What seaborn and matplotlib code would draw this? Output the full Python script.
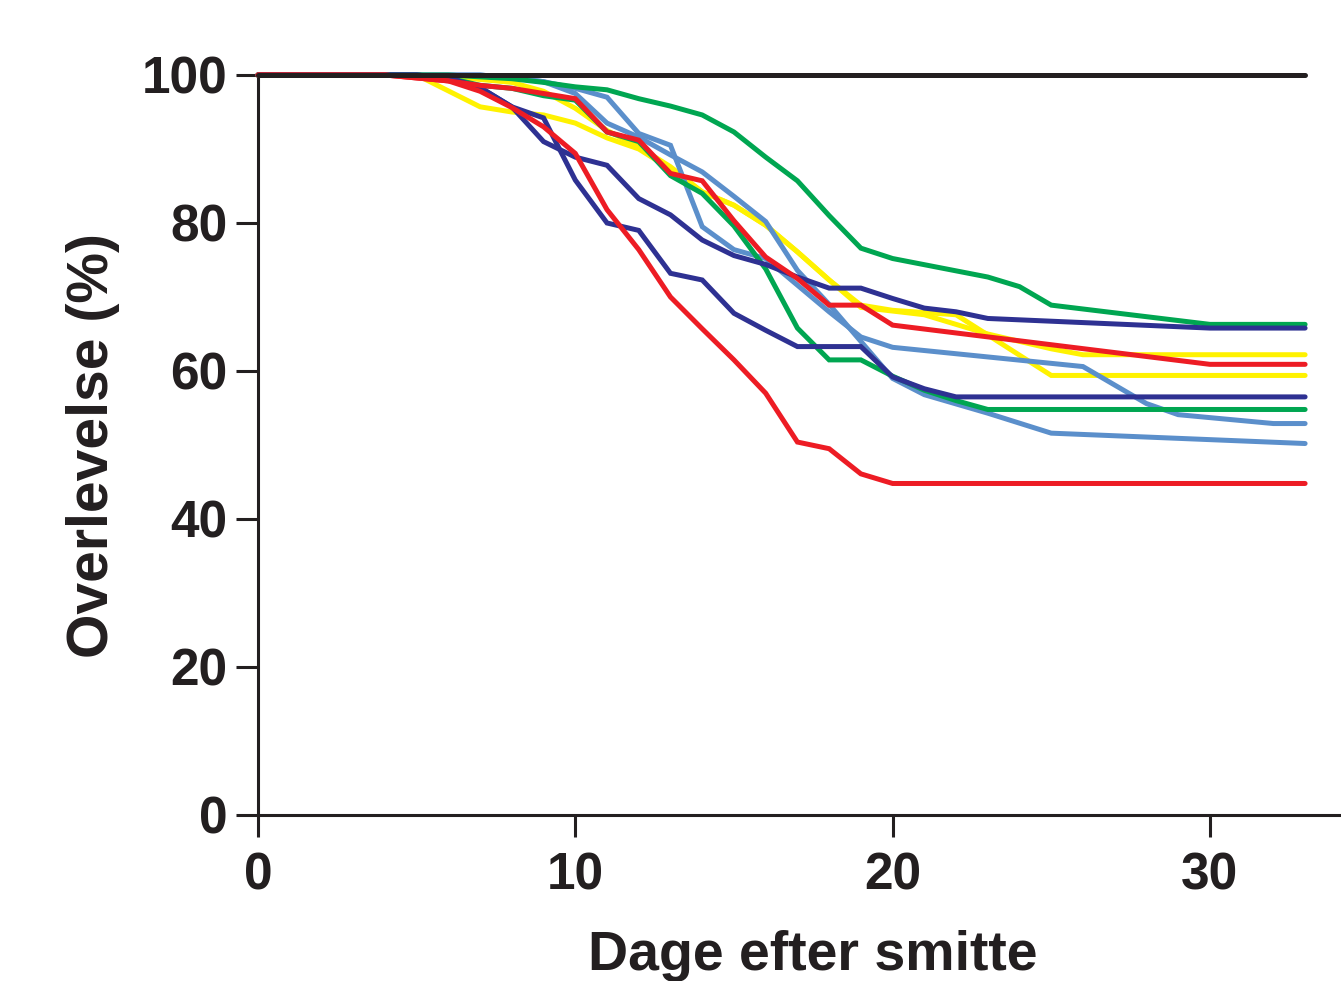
import matplotlib
matplotlib.use("Agg")
import matplotlib.pyplot as plt
import matplotlib.colors as mcolors
import seaborn as sns
import pandas as pd

# ---- data ----
control_days = [0, 33]
control_vals = [100, 100]

darkblue_a_days = [0, 5, 6, 7, 8, 9, 10, 11, 12, 13, 14, 15, 16, 17, 18, 19, 20, 21, 22, 33]
darkblue_a_vals = [100, 100, 99.6, 98.3, 95.7, 94.2, 85.8, 80.0, 79.0, 73.2, 72.3, 67.8, 65.5, 63.3, 63.3, 63.3, 59.2, 57.6, 56.5, 56.5]

darkblue_b_days = [0, 5, 6, 7, 8, 9, 10, 11, 12, 13, 14, 15, 16, 17, 18, 19, 20, 21, 22, 23, 30, 33]
darkblue_b_vals = [100, 100, 99.6, 98.3, 95.7, 91.0, 88.9, 87.8, 83.3, 81.1, 77.7, 75.6, 74.4, 72.7, 71.2, 71.2, 69.8, 68.5, 68.0, 67.1, 65.8, 65.8]

lightblue_a_days = [0, 7, 8, 9, 10, 11, 12, 13, 14, 15, 16, 17, 18, 19, 20, 26, 28, 29, 32, 33]
lightblue_a_vals = [100, 100, 99.6, 99.1, 98.2, 97.0, 92.1, 90.5, 79.5, 76.4, 75.2, 71.6, 68.0, 64.6, 63.2, 60.6, 55.6, 54.1, 52.9, 52.9]

lightblue_b_days = [0, 7, 8, 9, 10, 11, 12, 13, 14, 15, 16, 17, 18, 19, 20, 21, 23, 25, 33]
lightblue_b_vals = [100, 100, 99.6, 99.1, 97.5, 93.5, 91.6, 89.2, 86.9, 83.6, 80.2, 73.6, 69.0, 64.0, 59.0, 56.8, 54.3, 51.6, 50.2]

green_a_days = [0, 6, 8, 9, 10, 11, 12, 13, 14, 15, 16, 17, 18, 19, 20, 23, 24, 25, 30, 33]
green_a_vals = [100, 100, 99.5, 99.0, 98.4, 98.0, 96.8, 95.8, 94.6, 92.3, 88.9, 85.7, 81.0, 76.6, 75.2, 72.7, 71.4, 68.9, 66.3, 66.3]

green_b_days = [0, 5, 6, 7, 8, 9, 10, 11, 12, 13, 14, 15, 16, 17, 18, 19, 20, 21, 22, 23, 33]
green_b_vals = [100, 100, 99.6, 98.6, 98.2, 97.2, 96.6, 92.3, 91.0, 86.4, 84.0, 79.6, 73.8, 65.8, 61.5, 61.5, 59.3, 57.4, 56.0, 54.8, 54.8]

yellow_a_days = [0, 5, 6, 8, 9, 10, 11, 12, 13, 14, 15, 16, 17, 18, 19, 21, 23, 25, 26, 33]
yellow_a_vals = [100, 100, 99.8, 99.0, 97.8, 95.5, 92.5, 90.3, 87.6, 84.2, 82.4, 79.7, 76.1, 72.3, 68.6, 67.6, 65.0, 63.0, 62.2, 62.2]

yellow_b_days = [0, 5, 7, 8, 9, 10, 11, 12, 13, 14, 15, 16, 17, 18, 19, 20, 22, 25, 33]
yellow_b_vals = [100, 100, 95.7, 95.0, 94.6, 93.5, 91.5, 90.0, 87.3, 84.2, 82.4, 79.7, 76.1, 72.3, 68.9, 68.2, 67.6, 59.4, 59.4]

red_a_days = [0, 4, 5, 6, 7, 8, 9, 10, 11, 12, 13, 14, 15, 16, 17, 18, 19, 20, 33]
red_a_vals = [100, 100, 99.6, 99.2, 97.8, 95.6, 93.0, 89.4, 81.8, 76.4, 70.0, 65.7, 61.5, 57.0, 50.4, 49.5, 46.1, 44.8, 44.8]

red_b_days = [0, 4, 5, 6, 7, 8, 9, 10, 11, 12, 13, 14, 15, 16, 17, 18, 19, 20, 30, 33]
red_b_vals = [100, 100, 99.6, 99.2, 98.6, 98.2, 97.5, 96.8, 92.3, 91.2, 86.7, 85.7, 80.3, 75.4, 72.5, 68.9, 68.9, 66.2, 60.9, 60.9]

x_ticks = [0, 10, 20, 30]
y_ticks = [0, 20, 40, 60, 80, 100]
x_label = "Dage efter smitte"
y_label = "Overlevelse (%)"

DARKBLUE = "#2E3192"
LIGHTBLUE = "#5B8FCB"
GREEN = "#00A651"
YELLOW = "#FFF200"
RED = "#ED1C24"
BLACK = "#231F20"

series = [
    ("yellow_a", yellow_a_days, yellow_a_vals, YELLOW),
    ("yellow_b", yellow_b_days, yellow_b_vals, YELLOW),
    ("lightblue_a", lightblue_a_days, lightblue_a_vals, LIGHTBLUE),
    ("lightblue_b", lightblue_b_days, lightblue_b_vals, LIGHTBLUE),
    ("green_a", green_a_days, green_a_vals, GREEN),
    ("green_b", green_b_days, green_b_vals, GREEN),
    ("darkblue_a", darkblue_a_days, darkblue_a_vals, DARKBLUE),
    ("darkblue_b", darkblue_b_days, darkblue_b_vals, DARKBLUE),
    ("red_a", red_a_days, red_a_vals, RED),
    ("red_b", red_b_days, red_b_vals, RED),
    ("control", control_days, control_vals, BLACK),
]

rows = []
for name, d, v, _ in series:
    for xx, yy in zip(d, v):
        rows.append({"day": xx, "val": yy, "series": name})
df = pd.DataFrame(rows)
palette = {name: c for name, _, _, c in series}

sns.set_theme(style="white")
plt.rcParams["font.family"] = ["Liberation Sans", "DejaVu Sans"]
plt.rcParams["font.weight"] = "bold"

fig = plt.figure(figsize=(13.41, 9.81), dpi=100)
ax = fig.add_axes([258 / 1341, 1 - 815 / 981, (1340 - 258) / 1341, (815 - 75) / 981])

sns.lineplot(data=df, x="day", y="val", hue="series", hue_order=[s[0] for s in series],
             palette=palette, estimator=None, sort=False, legend=False, ax=ax,
             linewidth=3.6, solid_capstyle="round", solid_joinstyle="miter", clip_on=False)

# keep the control (black) line on top of the others
black_rgb = mcolors.to_rgb(BLACK)
for ln in ax.lines:
    if mcolors.to_rgb(ln.get_color()) == black_rgb:
        ln.set_zorder(5)
    else:
        ln.set_zorder(3)

ax.set_xlim(0, 34.1)
ax.set_ylim(0, 100)
ax.set_xticks(x_ticks)
ax.set_yticks(y_ticks)
for side in ["top", "right"]:
    ax.spines[side].set_visible(False)
for side in ["left", "bottom"]:
    ax.spines[side].set_linewidth(2.2)
    ax.spines[side].set_color(BLACK)
ax.tick_params(axis="both", which="major", direction="out", length=16, width=2.2,
               color=BLACK, labelsize=37, labelcolor=BLACK, bottom=True, left=True)
ax.tick_params(axis="y", pad=6)
ax.tick_params(axis="x", pad=10)
for lab in ax.get_xticklabels() + ax.get_yticklabels():
    lab.set_fontweight("bold")

ax.set_xlabel(x_label, fontsize=40, fontweight="bold", color=BLACK)
ax.set_ylabel(y_label, fontsize=41, fontweight="bold", color=BLACK)
ax.xaxis.set_label_coords(0.513, -0.155)
ax.yaxis.set_label_coords(-0.128, 0.5)
ax.set_facecolor("white")
fig.patch.set_facecolor("white")

fig.savefig("out.png", dpi=100)
